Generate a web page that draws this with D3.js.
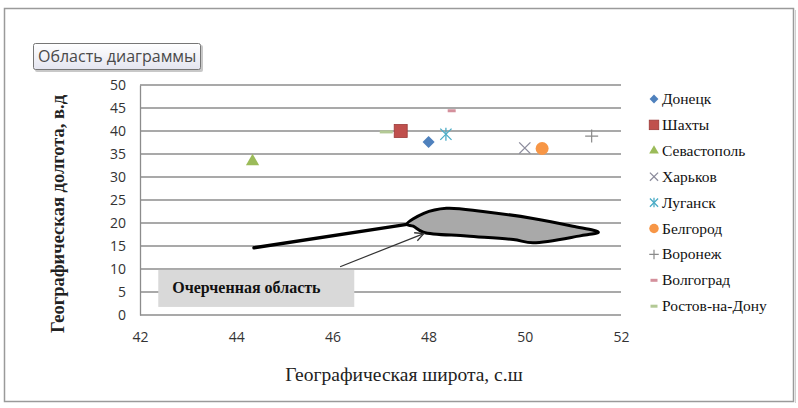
<!DOCTYPE html>
<html>
<head>
<meta charset="utf-8">
<script src="https://cdn.jsdelivr.net/npm/d3@7"></script>
<style>
  body { margin: 0; background: #fff; }
</style>
</head>
<body>
<div id="chart"></div>
<script>
// city points: latitude (x), longitude (y)
const cities = ["Донецк", "Шахты", "Севастополь", "Харьков", "Луганск", "Белгород", "Воронеж", "Волгоград", "Ростов-на-Дону"];
const latitude = [48.0, 47.42, 44.34, 50.0, 48.36, 50.36, 51.39, 48.48, 47.12];
const longitude = [37.6, 40.0, 33.4, 36.3, 39.3, 36.2, 38.9, 44.4, 39.8];
const markerTypes = ["diamond", "square", "triangle", "x", "asterisk", "circle", "plus", "dash", "dash"];
const colors = ["#4f81bd", "#c0504d", "#9bbb59", "#8c8c9c", "#4bacc6", "#f79646", "#8a8a8a", "#d4909c", "#b3c995"];

const xTicks = [42, 44, 46, 48, 50, 52];
const yTicks = [0, 5, 10, 15, 20, 25, 30, 35, 40, 45, 50];

// hand drawn outline (in data units)
const tailLat = [44.37, 47.55];
const tailLon = [14.6, 19.7];
const blobLat = [47.55, 47.9, 48.37, 49.13, 50.17, 51.0, 51.53, 51.15, 50.17, 49.76, 48.79, 47.89, 47.68];
const blobLon = [19.7, 22.1, 23.2, 22.5, 21.0, 19.3, 18.0, 17.2, 15.7, 16.4, 17.2, 18.0, 19.3];
const arrowLat = [46.16, 47.9];
const arrowLon = [10.5, 17.7];

const SERIF = "'Liberation Serif', 'Times New Roman', serif";
const SANS = "'Open Sans', 'DejaVu Sans', sans-serif";

const W = 798, H = 408;
const margin = { top: 85, right: 177, bottom: 93, left: 140 };
const width = W - margin.left - margin.right,
    height = H - margin.top - margin.bottom;

const root = d3.select("#chart").append("svg")
    .attr("width", W)
    .attr("height", H);

// outer frame
root.append("rect")
    .attr("x", 4.5).attr("y", 8.5)
    .attr("width", 789).attr("height", 393)
    .attr("fill", "#fff")
    .attr("stroke", "#9a9a9a")
    .attr("stroke-width", 1.5);
root.append("line")
    .attr("x1", 795.5).attr("x2", 795.5).attr("y1", 10).attr("y2", 403)
    .attr("stroke", "#d0d0d0");

const svg = root.append("g")
    .attr("transform", "translate(" + margin.left + "," + margin.top + ")");

const x = d3.scaleLinear().domain([42, 52]).range([0, width]);
const y = d3.scaleLinear().domain([0, 50]).range([height, 0]);

// gridlines
svg.append("g")
    .selectAll("line")
    .data(yTicks)
    .join("line")
    .attr("x1", 0).attr("x2", width)
    .attr("y1", d => y(d)).attr("y2", d => y(d))
    .attr("stroke", "#8c8c8c")
    .attr("stroke-width", 1.3);

// axes
const yAxis = svg.append("g")
    .call(d3.axisLeft(y).tickValues(yTicks).tickSize(0).tickPadding(14));
yAxis.select(".domain").attr("stroke", "#8c8c8c").attr("stroke-width", 1.3);
yAxis.selectAll("text").style("font-family", SANS).attr("font-size", 14).attr("fill", "#333");

const xAxis = svg.append("g")
    .attr("transform", "translate(0," + height + ")")
    .call(d3.axisBottom(x).tickValues(xTicks).tickSize(0).tickPadding(17));
xAxis.select(".domain").remove();
xAxis.selectAll("text").style("font-family", SANS).attr("font-size", 14).attr("fill", "#333");

// axis titles
root.append("text")
    .attr("transform", "translate(64,214) rotate(-90)")
    .attr("text-anchor", "middle")
    .style("font-family", SERIF)
    .attr("font-size", 18.5)
    .attr("font-weight", "bold")
    .attr("fill", "#222")
    .text("Географическая долгота, в.д");

root.append("text")
    .attr("x", 404).attr("y", 381)
    .attr("text-anchor", "middle")
    .style("font-family", SERIF)
    .attr("font-size", 19.5)
    .attr("fill", "#222")
    .text("Географическая широта, с.ш");

// outlined region
const line = d3.line().x(d => x(d[0])).y(d => y(d[1]));
svg.append("path")
    .attr("d", line(tailLat.map((d, i) => [d, tailLon[i]])))
    .attr("fill", "none")
    .attr("stroke", "#000")
    .attr("stroke-width", 3.5)
    .attr("stroke-linecap", "round");

svg.append("path")
    .attr("d", d3.line().x(d => x(d[0])).y(d => y(d[1])).curve(d3.curveCatmullRomClosed)(blobLat.map((d, i) => [d, blobLon[i]])))
    .attr("fill", "#a9a9a9")
    .attr("stroke", "#000")
    .attr("stroke-width", 3);

// callout box
svg.append("rect")
    .attr("x", x(42.38)).attr("y", y(9.8))
    .attr("width", 196).attr("height", 37)
    .attr("fill", "#d9d9d9");
svg.append("text")
    .attr("x", x(42.38) + 14).attr("y", y(9.8) + 23)
    .style("font-family", SERIF)
    .attr("font-size", 16)
    .attr("font-weight", "bold")
    .attr("fill", "#111")
    .text("Очерченная область");

// arrow
root.append("defs").append("marker")
    .attr("id", "arr")
    .attr("viewBox", "0 0 10 10")
    .attr("refX", 9).attr("refY", 5)
    .attr("markerWidth", 9).attr("markerHeight", 9)
    .attr("orient", "auto")
    .append("path")
    .attr("d", "M1,1 L9,5 L1,9")
    .attr("fill", "none")
    .attr("stroke", "#333")
    .attr("stroke-width", 1.2);
svg.append("line")
    .attr("x1", x(arrowLat[0])).attr("y1", y(arrowLon[0]))
    .attr("x2", x(arrowLat[1])).attr("y2", y(arrowLon[1]))
    .attr("stroke", "#333")
    .attr("stroke-width", 1.2)
    .attr("marker-end", "url(#arr)");

// marker drawing
function drawMarker(g, type, color, s) {
    if (type === "diamond") {
        g.append("path").attr("d", d3.symbol(d3.symbolDiamond2, s * s * 0.55)()).attr("fill", color);
    } else if (type === "square") {
        g.append("rect").attr("x", -s / 2).attr("y", -s / 2).attr("width", s).attr("height", s)
            .attr("fill", color).attr("stroke", "#9c3a38").attr("stroke-width", 0.8);
    } else if (type === "triangle") {
        g.append("path").attr("d", d3.symbol(d3.symbolTriangle, s * s * 0.45)()).attr("fill", color);
    } else if (type === "circle") {
        g.append("circle").attr("r", s / 2).attr("fill", color);
    } else if (type === "x") {
        g.append("path").attr("d", d3.symbol(d3.symbolX, s * s * 0.5)())
            .attr("stroke", color).attr("stroke-width", 1.3).attr("fill", "none");
    } else if (type === "asterisk") {
        g.append("path").attr("d", d3.symbol(d3.symbolX, s * s * 0.5)())
            .attr("stroke", color).attr("stroke-width", 1.3).attr("fill", "none");
        g.append("line").attr("x1", 0).attr("x2", 0).attr("y1", -s / 2).attr("y2", s / 2)
            .attr("stroke", color).attr("stroke-width", 1.3);
    } else if (type === "plus") {
        g.append("path").attr("d", "M" + (-s / 2) + ",0H" + (s / 2) + "M0," + (-s / 2) + "V" + (s / 2))
            .attr("stroke", color).attr("stroke-width", 1.2).attr("fill", "none");
    } else if (type === "dash") {
        g.append("rect").attr("x", -s / 2).attr("y", -1.5).attr("width", s).attr("height", 3).attr("fill", color);
    }
}

// points
const pts = svg.append("g")
    .selectAll("g")
    .data(cities)
    .join("g")
    .attr("transform", (d, i) => "translate(" + x(latitude[i]) + "," + y(longitude[i]) + ")");
pts.each(function(d, i) {
    const sz = markerTypes[i] === "dash" ? (i === 8 ? 13 : 8) : 13;
    drawMarker(d3.select(this), markerTypes[i], colors[i], sz);
});

// legend
const legend = root.append("g")
    .attr("transform", "translate(654,99)");
const rows = legend.selectAll("g")
    .data(cities)
    .join("g")
    .attr("transform", (d, i) => "translate(0," + (i * 25.9) + ")");
rows.each(function(d, i) {
    const sz = markerTypes[i] === "dash" ? 7 : 9.5;
    drawMarker(d3.select(this), markerTypes[i], colors[i], sz);
});
rows.append("text")
    .attr("x", 8).attr("y", 5)
    .style("font-family", SERIF)
    .attr("font-size", 15.5)
    .attr("fill", "#111")
    .text(d => d);

// "Область диаграммы" tooltip
const tip = root.append("g").attr("transform", "translate(33,43)");
const grad = root.select("defs").append("linearGradient")
    .attr("id", "tipg").attr("x1", 0).attr("x2", 0).attr("y1", 0).attr("y2", 1);
grad.append("stop").attr("offset", "0%").attr("stop-color", "#ffffff");
grad.append("stop").attr("offset", "100%").attr("stop-color", "#e4e5f0");
tip.append("rect")
    .attr("x", 2).attr("y", 2).attr("width", 168).attr("height", 27)
    .attr("rx", 2)
    .attr("fill", "#c8c8c8");
tip.append("rect")
    .attr("x", 0.5).attr("y", 0.5).attr("width", 167).attr("height", 26)
    .attr("rx", 2)
    .attr("fill", "url(#tipg)")
    .attr("stroke", "#767676");
tip.append("text")
    .attr("x", 5).attr("y", 19)
    .style("font-family", SANS)
    .attr("font-size", 16)
    .attr("fill", "#4a4a4a")
    .text("Область диаграммы");
</script>
</body>
</html>
